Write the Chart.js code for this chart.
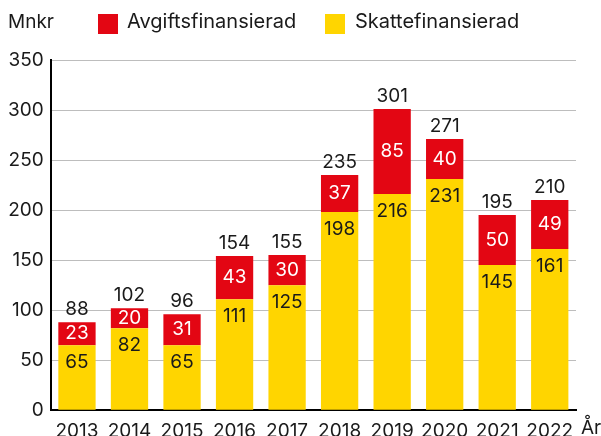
<!DOCTYPE html>
<html>
<head>
<meta charset="utf-8">
<script src="https://cdn.jsdelivr.net/npm/chart.js@4"></script>
<style>
  html, body { margin: 0; padding: 0; background: #fff; }
  #wrap { width: 601px; height: 436px; }
</style>
</head>
<body>
<div id="wrap"><canvas id="chart" width="601" height="436"></canvas></div>
<script>
// data
const years = ['2013', '2014', '2015', '2016', '2017', '2018', '2019', '2020', '2021', '2022'];
const skatte = [65, 82, 65, 111, 125, 198, 216, 231, 145, 161];
const avgift = [23, 20, 31, 43, 30, 37, 85, 40, 50, 49];
const yTicks = [0, 50, 100, 150, 200, 250, 300, 350];

const RED = '#E30613';
const YELLOW = '#FFD500';
const TXT = '#1a1a1a';
const FONT = 'Inter, "Open Sans", sans-serif';

// labels inside the bars, totals on top, legend and unit text
const labelPlugin = {
  id: 'labels',
  afterDatasetsDraw(chart) {
    const ctx = chart.ctx;
    ctx.save();
    ctx.font = '19px ' + FONT;
    ctx.textAlign = 'center';
    ctx.textBaseline = 'middle';
    const m0 = chart.getDatasetMeta(0);
    const m1 = chart.getDatasetMeta(1);
    years.forEach((y, i) => {
      const b0 = m0.data[i], b1 = m1.data[i];
      // yellow value sits just under the top of its segment
      ctx.fillStyle = TXT;
      ctx.fillText(skatte[i], b0.x, b0.y + 17);
      ctx.fillStyle = '#fff';
      ctx.fillText(avgift[i], b1.x, (b1.y + b1.base) / 2);
      ctx.fillStyle = TXT;
      ctx.fillText(skatte[i] + avgift[i], b1.x, b1.y - 13);
    });

    // unit + legend
    ctx.textAlign = 'left';
    ctx.fillStyle = TXT;
    ctx.fillText('Mnkr', 8, 22);
    ctx.font = '20px ' + FONT;
    ctx.fillStyle = RED;
    ctx.fillRect(98, 14, 20, 20);
    ctx.fillStyle = TXT;
    ctx.fillText('Avgiftsfinansierad', 127, 22);
    ctx.fillStyle = YELLOW;
    ctx.fillRect(325, 14, 20, 20);
    ctx.fillStyle = TXT;
    ctx.fillText('Skattefinansierad', 355, 22);

    // axis title at the end of the x axis
    const area = chart.chartArea;
    ctx.font = '19px ' + FONT;
    ctx.fillText('År', area.right + 5, area.bottom + 18);
    ctx.restore();
  }
};

new Chart(document.getElementById('chart'), {
  type: 'bar',
  data: {
    labels: years,
    datasets: [
      { label: 'Skattefinansierad', data: skatte, backgroundColor: YELLOW, barPercentage: 0.71, categoryPercentage: 1 },
      { label: 'Avgiftsfinansierad', data: avgift, backgroundColor: RED, barPercentage: 0.71, categoryPercentage: 1 }
    ]
  },
  options: {
    responsive: false,
    animation: false,
    layout: { padding: { top: 60, right: 25, left: 1, bottom: -9 } },
    plugins: { legend: { display: false }, tooltip: { enabled: false } },
    scales: {
      x: {
        stacked: true,
        grid: { display: false },
        border: { color: '#000', width: 2 },
        ticks: { color: TXT, font: { family: FONT, size: 19 }, padding: 2, maxRotation: 0 }
      },
      y: {
        stacked: true,
        min: 0,
        max: 350,
        afterBuildTicks: (s) => { s.ticks = yTicks.map(v => ({ value: v })); },
        grid: { color: '#bdbdbd', lineWidth: 1, drawTicks: false },
        border: { color: '#000', width: 2 },
        ticks: { color: TXT, font: { family: FONT, size: 19 }, padding: 7 }
      }
    }
  },
  plugins: [labelPlugin]
});
</script>
</body>
</html>
